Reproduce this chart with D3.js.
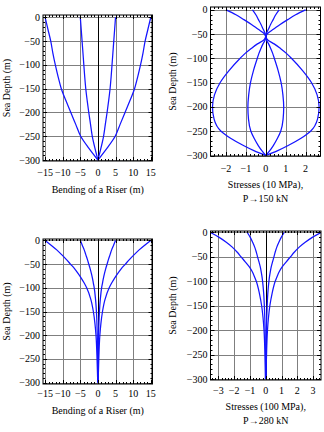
<!DOCTYPE html>
<html><head><meta charset="utf-8">
<script src="https://cdn.jsdelivr.net/npm/d3@7"></script>
<style>
html,body{margin:0;padding:0;background:#fff;}
svg text{font-family:"Liberation Serif","Times New Roman",serif;font-size:10px;fill:#000;}
</style></head>
<body>
<svg id="chart" width="324" height="432"></svg>
<script>
// ---------- DATA ----------
const depthTicks = [0, -50, -100, -150, -200, -250, -300];
const bendTicks = [-15, -10, -5, 0, 5, 10, 15];
const stress10Ticks = [-2, -1, 0, 1, 2];
const stress100Ticks = [-3, -2, -1, 0, 1, 2, 3];

// Panel 1: bending, P -> 150 kN
const depths1 = [0, -25, -50, -75, -100, -125, -150, -175, -200, -225, -250, -275, -300];
const bendOuter1 = [15, 14.2, 13.4, 12.8, 12.1, 11.3, 10.4, 9.1, 7.7, 6.3, 4.9, 2.6, 0];
const bendInner1 = [5, 4.75, 4.5, 4.25, 4.0, 3.75, 3.45, 3.05, 2.6, 2.1, 1.6, 0.85, 0];

// Panel 2: stresses (10 MPa), P -> 150 kN
const depths2 = [0, -10, -20, -30, -40, -48, -55, -62, -70, -80, -90, -100, -125, -150, -175, -200, -225, -250, -265, -280, -290, -300];
const stressOuter2 = [2.0, 1.5, 1.1, 0.72, 0.38, 0.1, 0, -0.1, -0.42, -0.75, -1.05, -1.3, -1.85, -2.3, -2.58, -2.68, -2.6, -2.25, -1.75, -1.1, -0.6, 0];
const stressInner2 = [0.67, 0.5, 0.37, 0.24, 0.13, 0.035, 0, -0.035, -0.14, -0.25, -0.35, -0.43, -0.62, -0.77, -0.86, -0.9, -0.87, -0.75, -0.58, -0.37, -0.2, 0];

// Panel 3: bending, P -> 280 kN
const depths3 = [0, -10, -20, -30, -40, -50, -60, -70, -80, -90, -100, -125, -150, -175, -200, -250, -300];
const bendOuter3 = [15, 13.3, 11.7, 10.3, 9.0, 7.8, 6.6, 5.6, 4.7, 3.9, 3.2, 2.0, 1.3, 0.85, 0.55, 0.25, 0.05];
const bendInner3 = [5, 4.45, 3.9, 3.45, 3.0, 2.6, 2.2, 1.85, 1.55, 1.3, 1.05, 0.67, 0.43, 0.28, 0.18, 0.08, 0.02];

// Panel 4: stresses (100 MPa), P -> 280 kN
const depths4 = [0, -10, -20, -30, -40, -50, -60, -70, -80, -90, -100, -125, -150, -175, -200, -250, -300];
const stressOuter4 = [3.5, 2.95, 2.5, 2.12, 1.82, 1.56, 1.3, 1.05, 0.86, 0.72, 0.6, 0.4, 0.26, 0.17, 0.11, 0.05, 0.02];
const stressInner4 = [1.17, 0.98, 0.83, 0.7, 0.6, 0.52, 0.43, 0.35, 0.29, 0.24, 0.2, 0.13, 0.09, 0.06, 0.04, 0.02, 0.01];

const xLabels = ["Bending of a Riser (m)", ["Stresses (10 MPa),", "P\u2192150 kN"], "Bending of a Riser (m)", ["Stresses (100 MPa),", "P\u2192280 kN"]];
const yLabel = "Sea Depth (m)";

// ---------- DRAW ----------
const svg = d3.select("#chart");
const fmt = v => (v < 0 ? "\u2212" + Math.abs(v) : "" + v);

const panels = [
  { id: 0, box: [43, 152.5, 15, 161], xd: [-15.6, 15.5], yd: [-302, 5], xt: bendTicks, xminor: 1, xmin: -15, xmax: 15,
    depths: depths1, series: [bendOuter1, bendInner1], label: xLabels[0], tickY: 172, labY: [189] },
  { id: 1, box: [210.5, 320.5, 7, 156], xd: [-2.78, 2.75], yd: [-301, 6], xt: stress10Ticks, xminor: 0.2, xmin: -2.6, xmax: 2.6,
    depths: depths2, series: [stressOuter2, stressInner2], label: xLabels[1], tickY: 168.5, labY: [184, 198] },
  { id: 2, box: [43, 152.5, 239, 384], xd: [-15.6, 15.5], yd: [-303, 3], xt: bendTicks, xminor: 1, xmin: -15, xmax: 15,
    depths: depths3, series: [bendOuter3, bendInner3], label: xLabels[2], tickY: 393.5, labY: [410] },
  { id: 3, box: [210.5, 321, 231, 380], xd: [-3.5, 3.5], yd: [-302, 3], xt: stress100Ticks, xminor: 0.2, xmin: -3.4, xmax: 3.4,
    depths: depths4, series: [stressOuter4, stressInner4], label: xLabels[3], tickY: 390, labY: [406.5, 420.5] }
];

panels.forEach(p => {
  const [x0, x1, y0, y1] = p.box;
  const x = d3.scaleLinear().domain(p.xd).range([x0, x1]);
  const y = d3.scaleLinear().domain(p.yd).range([y1, y0]);
  const g = svg.append("g");
  const clipId = "clip" + p.id;
  svg.append("clipPath").attr("id", clipId).append("rect")
    .attr("x", x0).attr("y", y0).attr("width", x1 - x0).attr("height", y1 - y0);

  // grid
  const grid = g.append("g").attr("stroke", "#7f7f7f").attr("stroke-width", 1);
  p.xt.filter(v => v !== 0).forEach(v => {
    const px = Math.round(x(v)) + 0.5;
    grid.append("line").attr("x1", px).attr("x2", px).attr("y1", y0).attr("y2", y1);
  });
  depthTicks.forEach(v => {
    const py = Math.round(y(v)) + 0.5;
    grid.append("line").attr("x1", x0).attr("x2", x1).attr("y1", py).attr("y2", py);
  });

  // riser axis line at x = 0
  const zx = Math.round(x(0)) + 0.5;
  g.append("line").attr("x1", zx).attr("x2", zx).attr("y1", y0).attr("y2", y1)
    .attr("stroke", "#000").attr("stroke-width", 1);

  // curves
  const line = d3.line().curve(d3.curveMonotoneY);
  const cg = g.append("g").attr("clip-path", `url(#${clipId})`);
  p.series.forEach(s => {
    [1, -1].forEach(sign => {
      const pts = p.depths.map((d, i) => [x(sign * s[i]), y(d)]);
      cg.append("path").attr("d", line(pts)).attr("fill", "none")
        .attr("stroke", "#1414ff").attr("stroke-width", 1.25);
    });
  });

  // frame
  g.append("rect").attr("x", x0).attr("y", y0).attr("width", x1 - x0).attr("height", y1 - y0)
    .attr("fill", "none").attr("stroke", "#000").attr("stroke-width", 1);

  // ticks (inward, all sides)
  const tk = g.append("g").attr("stroke", "#000").attr("stroke-width", 1);
  const nMinorX = Math.round((p.xmax - p.xmin) / p.xminor);
  for (let i = 0; i <= nMinorX; i++) {
    const v = p.xmin + i * p.xminor;
    const major = p.xt.some(t => Math.abs(t - v) < 1e-6);
    const len = major ? 4 : 2;
    const px = Math.round(x(v)) + 0.5;
    tk.append("line").attr("x1", px).attr("x2", px).attr("y1", y1).attr("y2", y1 - len);
    tk.append("line").attr("x1", px).attr("x2", px).attr("y1", y0).attr("y2", y0 + len);
  }
  for (let v = 0; v >= -300; v -= 10) {
    const major = v % 50 === 0;
    const len = major ? 4 : 2;
    const py = Math.round(y(v)) + 0.5;
    tk.append("line").attr("x1", x0).attr("x2", x0 + len).attr("y1", py).attr("y2", py);
    tk.append("line").attr("x1", x1).attr("x2", x1 - len).attr("y1", py).attr("y2", py);
  }

  // tick labels
  p.xt.forEach(v => {
    g.append("text").attr("x", x(v)).attr("y", p.tickY).attr("text-anchor", "middle")
      .attr("dominant-baseline", "central").text(fmt(v));
  });
  depthTicks.forEach(v => {
    g.append("text").attr("x", x0 - 3).attr("y", y(v)).attr("text-anchor", "end")
      .attr("dominant-baseline", "central").text(fmt(v));
  });

  // axis labels
  const labs = Array.isArray(p.label) ? p.label : [p.label];
  labs.forEach((t, i) => {
    g.append("text").attr("x", (x0 + x1) / 2).attr("y", p.labY[i]).attr("text-anchor", "middle")
      .attr("dominant-baseline", "central").text(t);
  });
  const ly = (y0 + y1) / 2;
  const lx = p.id % 2 === 0 ? 6 : 172;
  g.append("text").attr("transform", `translate(${lx},${ly}) rotate(-90)`)
    .attr("text-anchor", "middle").attr("dominant-baseline", "central").text(yLabel);
});
</script>
</body></html>
